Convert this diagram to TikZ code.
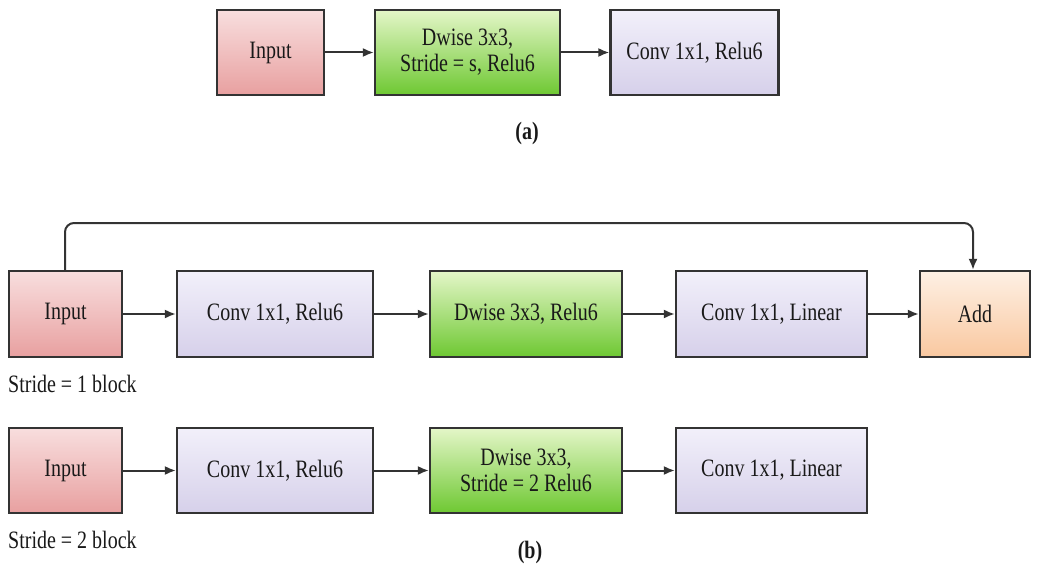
\documentclass[tikz,border=0pt]{standalone}
\usepackage{fontspec}
\setmainfont{Liberation Serif}[FakeStretch=0.8]
\usetikzlibrary{arrows.meta}
\definecolor{edge}{HTML}{333333}
\tikzset{
  blk/.style={draw=edge, line width=2.2pt, minimum height=85pt, inner sep=2pt,
    align=center, font=\fontsize{25}{26}\selectfont, text=black!90},
  inp/.style={blk, top color={rgb,255:red,248;green,222;blue,222}, bottom color={rgb,255:red,232;green,160;blue,160}},
  grn/.style={blk, top color={rgb,255:red,228;green,246;blue,200}, bottom color={rgb,255:red,110;green,200;blue,50}},
  lav/.style={blk, top color={rgb,255:red,242;green,240;blue,250}, bottom color={rgb,255:red,214;green,208;blue,234}},
  peach/.style={blk, top color={rgb,255:red,254;green,240;blue,228}, bottom color={rgb,255:red,249;green,200;blue,160}},
  con/.style={draw=edge, line width=2pt, -{Latex[length=11pt,width=9pt]}},
  lbl/.style={font=\fontsize{25}{26}\selectfont, text=black!90, inner sep=0pt},
  captext/.style={font=\bfseries\fontsize{25}{26}\selectfont, text=black!90, inner sep=0pt}
}
\begin{document}
\begin{tikzpicture}[x=1pt,y=-1pt]
\useasboundingbox (0,0) rectangle (1038,572);
% (a)
\node[inp, minimum width=107pt] (ai) at (270.5,52.5) {Input};
\node[grn, minimum width=185pt] (ad) at (467.5,52.5) {Dwise 3x3,\\Stride = s, Relu6};
\node[lav, minimum width=168pt] (ac) at (694.5,52.5) {Conv 1x1, Relu6};
\draw[con] (ai) -- (ad);
\draw[con] (ad) -- (ac);
\node[captext] (capa) at (527,133) {(a)};
% (b) stride 1
\node[inp, minimum width=113pt, minimum height=86pt] (bi) at (65.5,314) {Input};
\node[lav, minimum width=196pt, minimum height=86pt] (bc) at (275,314) {Conv 1x1, Relu6};
\node[grn, minimum width=192pt, minimum height=86pt] (bd) at (526,314) {Dwise 3x3, Relu6};
\node[lav, minimum width=191pt, minimum height=86pt] (bl) at (771.5,314) {Conv 1x1, Linear};
\node[peach, minimum width=110pt, minimum height=86pt] (ba) at (975,314) {Add};
\draw[con] (bi) -- (bc);
\draw[con] (bc) -- (bd);
\draw[con] (bd) -- (bl);
\draw[con] (bl) -- (ba);
\coordinate (s1) at (65,223);
\coordinate (s2) at (973,223);
\draw[con, rounded corners=9pt] (bi.north -| s1) -- (s1) -- (s2) -- (ba.north -| s2);
\node[lbl, anchor=west] (t1) at (8,384) {Stride = 1 block};
% (b) stride 2
\node[inp, minimum width=113pt] (ci) at (65.5,470.5) {Input};
\node[lav, minimum width=196pt] (cc) at (275,470.5) {Conv 1x1, Relu6};
\node[grn, minimum width=192pt] (cd) at (526,470.5) {Dwise 3x3,\\Stride = 2 Relu6};
\node[lav, minimum width=191pt] (cl) at (771.5,470.5) {Conv 1x1, Linear};
\draw[con] (ci) -- (cc);
\draw[con] (cc) -- (cd);
\draw[con] (cd) -- (cl);
\node[lbl, anchor=west] (t2) at (8,540) {Stride = 2 block};
\node[captext] (capb) at (530,552) {(b)};
\end{tikzpicture}
\end{document}
